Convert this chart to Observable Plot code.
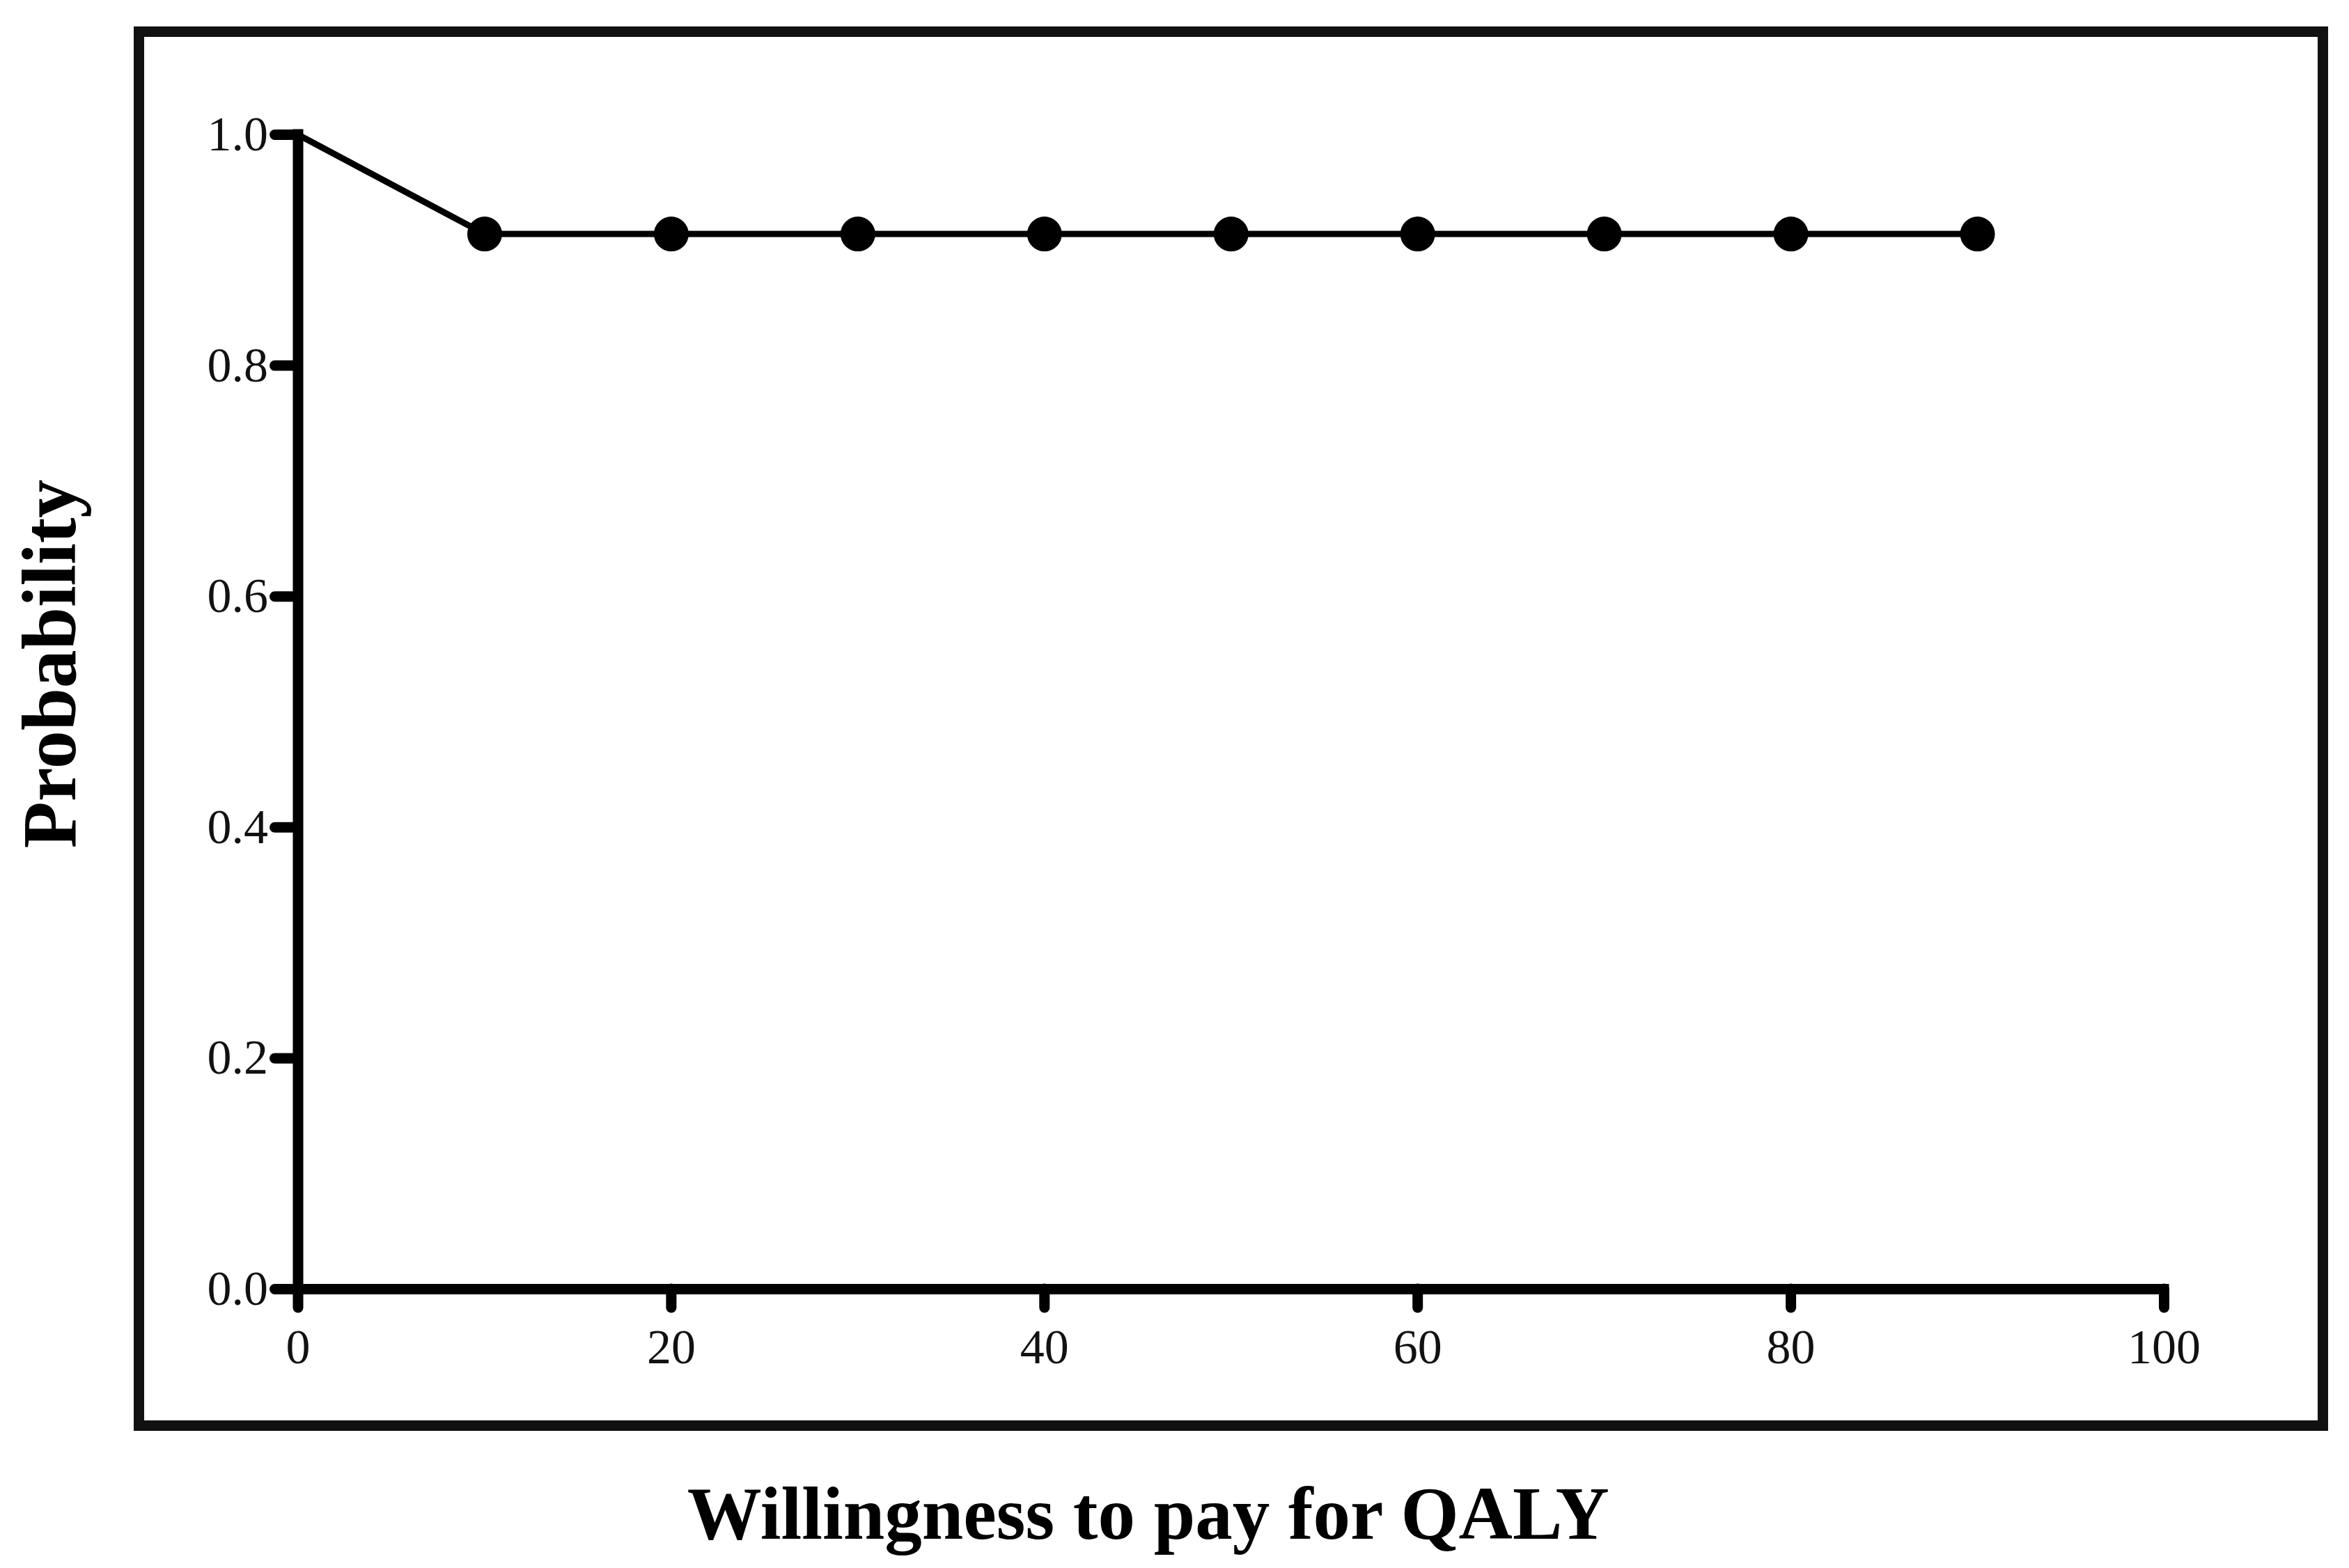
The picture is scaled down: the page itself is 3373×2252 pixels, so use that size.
<!DOCTYPE html>
<html>
<head>
<meta charset="utf-8">
<script src="https://cdn.jsdelivr.net/npm/d3@7"></script>
<script src="https://cdn.jsdelivr.net/npm/@observablehq/plot@0.6"></script>
<style>
  html, body { margin: 0; padding: 0; background: #fff; }
  #chart svg { display: block; }
</style>
</head>
<body>
<div id="chart"></div>
<script>
// Data
const wtp = [0, 10, 20, 30, 40, 50, 60, 70, 80, 90];
const probability = [1.0, 0.914, 0.914, 0.914, 0.914, 0.914, 0.914, 0.914, 0.914, 0.914];
const xTicks = [0, 20, 40, 60, 80, 100];
const yTicks = [0, 0.2, 0.4, 0.6, 0.8, 1.0];
const xTitle = "Willingness to pay for QALY";
const yTitle = "Probability";

const data = wtp.map((x, i) => ({x, y: probability[i]}));

const chart = Plot.plot({
  width: 3373,
  height: 2252,
  marginLeft: 427.5,
  marginRight: 266,
  marginTop: 193,
  marginBottom: 401,
  style: {fontFamily: "Liberation Serif", fontSize: "70px", color: "#000", background: "#fff"},
  x: {domain: [0, 100]},
  y: {domain: [0, 1]},
  marks: [
    Plot.frame({stroke: "#111", strokeWidth: 15, insetLeft: -228.5, insetRight: -228, insetTop: -148, insetBottom: -196}),
    Plot.axisX({ticks: xTicks, tickSize: 27, tickPadding: 30, strokeWidth: 15, strokeLinecap: "round", stroke: "#000", fill: "#111", label: null, fontSize: 70}),
    Plot.axisY({ticks: yTicks, tickSize: 33, tickPadding: 10, strokeWidth: 15, strokeLinecap: "round", stroke: "#000", fill: "#111", label: null, tickFormat: d3.format(".1f"), fontSize: 70}),
    Plot.ruleY([0], {x1: 0, x2: 100, stroke: "#000", strokeWidth: 15, strokeLinecap: "square"}),
    Plot.ruleX([0], {y1: 0, y2: 1, stroke: "#000", strokeWidth: 15, strokeLinecap: "square"}),
    Plot.line(data, {x: "x", y: "y", stroke: "#000", strokeWidth: 9}),
    Plot.dot(data, {x: "x", y: "y", r: 25, fill: "#000", filter: d => d.x > 0}),
    Plot.text([xTitle], {text: d => d, frameAnchor: "bottom", textAnchor: "middle", lineAnchor: "bottom", dx: -119, dy: 358, fontSize: 107, fontWeight: "bold", fill: "#000"}),
    Plot.text([yTitle], {text: d => d, frameAnchor: "left", textAnchor: "middle", lineAnchor: "bottom", rotate: -90, dx: -320.5, dy: -69, fontSize: 110, fontWeight: "bold", fill: "#000"})
  ]
});
document.getElementById("chart").appendChild(chart);
</script>
</body>
</html>
